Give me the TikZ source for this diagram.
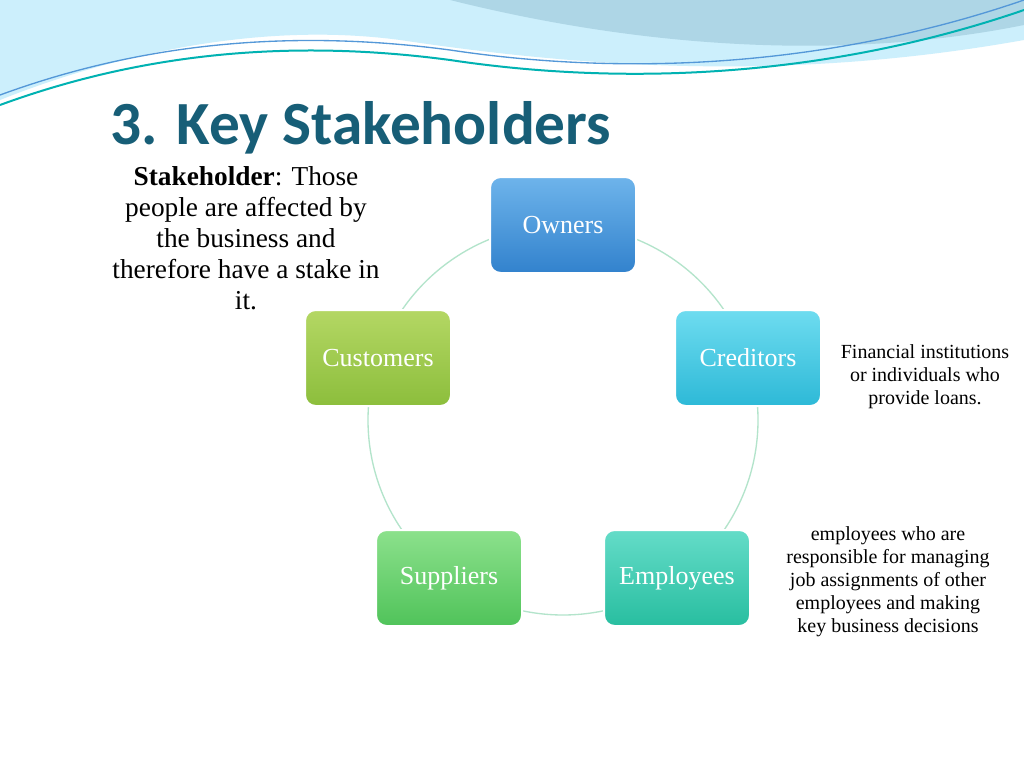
\documentclass[tikz,border=0pt]{standalone}
\usepackage{fontspec}
\setmainfont{Liberation Serif}
\newfontfamily\titlefont{Carlito}
\begin{document}
\begin{tikzpicture}[x=0.75pt,y=-0.75pt,
  box/.style={rounded corners=8pt,minimum width=146*0.75pt,minimum height=96*0.75pt,draw=white,line width=1.5pt,text=white,font=\fontsize{19.5}{22}\selectfont},
  note/.style={align=center,font=\fontsize{15}{17.3}\selectfont}]
\useasboundingbox (0,0) rectangle (1024,767);
\fill[white] (0,0) rectangle (1024,767);
% top waves
\fill[cyan!20!white] (0,0) -- (1024,0) -- (1024,40) .. controls (800,80) and (600,70) .. (400,40) .. controls (250,20) and (100,60) .. (0,100) -- cycle;
\fill[cyan!45!teal!35!white] (450,0) -- (1024,0) -- (1024,25) .. controls (850,60) and (650,50) .. (450,0) -- cycle;
\draw[teal!60!cyan,line width=1.5pt] (0,105) .. controls (150,50) and (300,40) .. (450,60) .. controls (650,90) and (850,70) .. (1024,10);
\draw[cyan!60!blue!70,line width=1pt] (0,95) .. controls (150,40) and (300,30) .. (450,50) .. controls (650,80) and (850,60) .. (1024,0);
\node[font=\titlefont\bfseries\fontsize{46}{48}\selectfont,text={rgb,255:red,23;green,94;blue,119},anchor=west] (title) at (106,128) {3. Key Stakeholders};
\draw[cyan!30!green!30,line width=1pt] (563,420) circle (195);
\node[box,top color={rgb,255:red,110;green,180;blue,235},bottom color={rgb,255:red,50;green,130;blue,205}] (own) at (563,225) {Owners};
\node[box,top color={rgb,255:red,110;green,220;blue,240},bottom color={rgb,255:red,45;green,185;blue,215}] (cred) at (748,358) {Creditors};
\node[box,top color={rgb,255:red,100;green,220;blue,200},bottom color={rgb,255:red,40;green,190;blue,160}] (emp) at (677,578) {Employees};
\node[box,top color={rgb,255:red,140;green,225;blue,140},bottom color={rgb,255:red,80;green,195;blue,90}] (sup) at (449,578) {Suppliers};
\node[box,top color={rgb,255:red,180;green,215;blue,100},bottom color={rgb,255:red,140;green,190;blue,60}] (cust) at (378,358) {Customers};
\node[note,font=\fontsize{20.5}{23.3}\selectfont] (def) at (246,238) {\textbf{Stakeholder}: Those\\people are affected by\\the business and\\therefore have a stake in\\it.};
\node[note] (fin) at (925,377) {Financial institutions\\or individuals who\\provide loans.};
\node[note] (empn) at (888,582) {employees who are\\responsible for managing\\job assignments of other\\employees and making\\key business decisions};
\end{tikzpicture}
\end{document}
